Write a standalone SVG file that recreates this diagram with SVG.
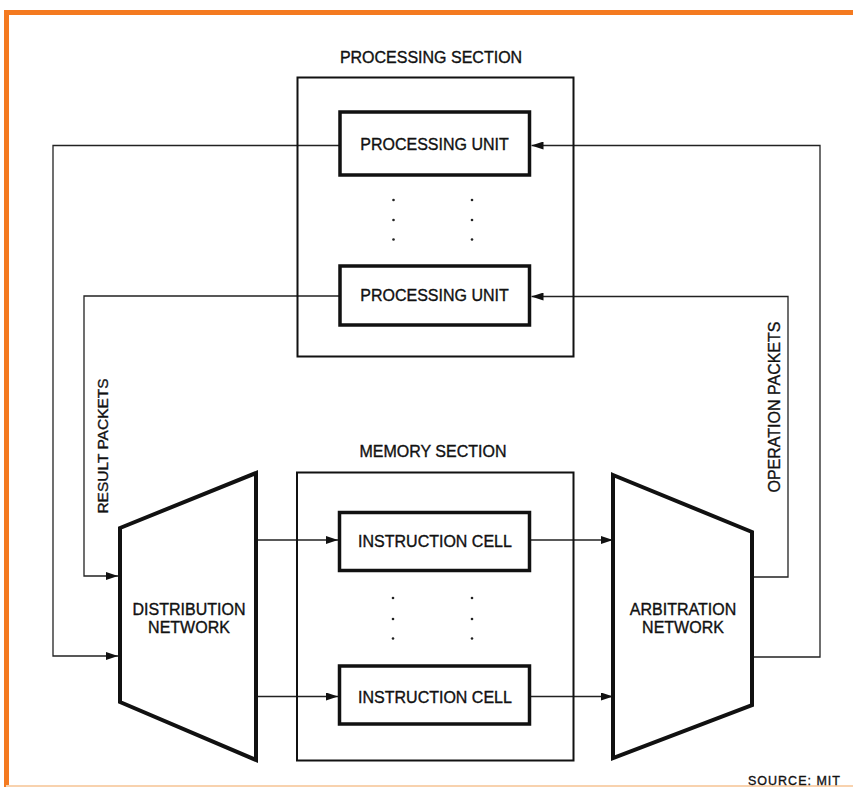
<svg xmlns="http://www.w3.org/2000/svg" width="853" height="787" viewBox="0 0 853 787">
<style>
.t{font-family:"Liberation Sans",Arial,sans-serif;font-size:16px;fill:#111;stroke:#111;stroke-width:0.35;text-anchor:middle}
.sec{fill:none;stroke:#111;stroke-width:2}
.unit{fill:#fff;stroke:#111;stroke-width:3.5}
.trap{fill:#fff;stroke:#111;stroke-width:4;stroke-linejoin:miter}
.con{fill:none;stroke:#222;stroke-width:1.3}
.dot{fill:#222}
</style>
<defs>
<marker id="arr" markerWidth="12" markerHeight="8" refX="12" refY="4" orient="auto" markerUnits="userSpaceOnUse">
<path d="M0,0 L12,4 L0,8 z" fill="#111"/>
</marker>
</defs>
<rect width="853" height="787" fill="#fff"/>
<g id="frame">
<path d="M6.5,787 V12.5 H853" fill="none" stroke="#f47a20" stroke-width="5"/>
<line x1="6" y1="786" x2="853" y2="786" stroke="#f8d2ae" stroke-width="2"/>
</g>
<g id="connectors">
<path class="con" d="M340,145.5 H53 V656 H118" marker-end="url(#arr)"/>
<path class="con" d="M340,296 H84 V576 H118" marker-end="url(#arr)"/>
<path class="con" d="M752,577 H788 V296.5 H531.5" marker-end="url(#arr)"/>
<path class="con" d="M752,657 H820 V145.5 H531.5" marker-end="url(#arr)"/>
<path class="con" d="M256,540 H338" marker-end="url(#arr)"/>
<path class="con" d="M256,696.5 H338" marker-end="url(#arr)"/>
<path class="con" d="M531,540 H613" marker-end="url(#arr)"/>
<path class="con" d="M531,696.5 H613" marker-end="url(#arr)"/>
</g>
<g id="processing-section">
<rect class="sec" x="297.5" y="77.5" width="276" height="279"/>
<text class="t" x="431" y="63">PROCESSING SECTION</text>
<g class="dot"><circle cx="393.5" cy="200" r="1.3"/><circle cx="393.5" cy="220" r="1.3"/><circle cx="393.5" cy="239.5" r="1.3"/><circle cx="472" cy="200" r="1.3"/><circle cx="472" cy="220" r="1.3"/><circle cx="472" cy="239.5" r="1.3"/></g>
</g>
<g id="processing-unit-1">
<rect class="unit" x="340" y="112" width="189.5" height="63"/>
<text class="t" x="434.5" y="150">PROCESSING UNIT</text>
</g>
<g id="processing-unit-2">
<rect class="unit" x="340" y="266" width="189.5" height="59"/>
<text class="t" x="434.5" y="301">PROCESSING UNIT</text>
</g>
<g id="memory-section">
<rect class="sec" x="297" y="472.5" width="276.5" height="288"/>
<text class="t" x="433" y="457">MEMORY SECTION</text>
<g class="dot"><circle cx="393" cy="598" r="1.3"/><circle cx="393" cy="619" r="1.3"/><circle cx="393" cy="638.5" r="1.3"/><circle cx="472" cy="598" r="1.3"/><circle cx="472" cy="619" r="1.3"/><circle cx="472" cy="638.5" r="1.3"/></g>
</g>
<g id="instruction-cell-1">
<rect class="unit" x="339.5" y="512.5" width="190" height="58"/>
<text class="t" x="435" y="546.5">INSTRUCTION CELL</text>
</g>
<g id="instruction-cell-2">
<rect class="unit" x="339.5" y="666" width="190" height="58"/>
<text class="t" x="435" y="702.5">INSTRUCTION CELL</text>
</g>
<g id="distribution-network">
<polygon class="trap" points="120,528 256,473 256,760 120,702"/>
<text class="t" x="189" y="615">DISTRIBUTION</text>
<text class="t" x="189" y="633">NETWORK</text>
</g>
<g id="arbitration-network">
<polygon class="trap" points="613,475 752,532 752,705 613,758"/>
<text class="t" x="683" y="615">ARBITRATION</text>
<text class="t" x="683" y="633">NETWORK</text>
</g>
<g id="labels">
<text class="t" style="font-size:15.5px" transform="translate(108,446) rotate(-90)">RESULT PACKETS</text>
<text class="t" transform="translate(780,407) rotate(-90)">OPERATION PACKETS</text>
<text class="t" style="font-size:12.5px;letter-spacing:1px;text-anchor:start" x="748" y="785">SOURCE: MIT</text>
</g>
</svg>
